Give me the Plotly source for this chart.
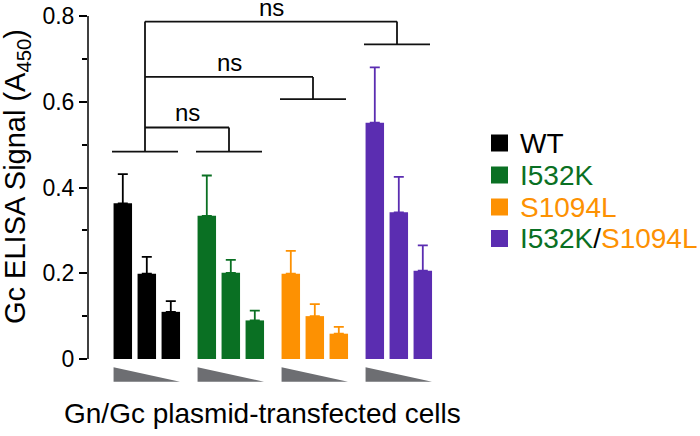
import plotly.graph_objects as go

# ---------------- data ----------------
groups = ["WT", "I532K", "S1094L", "I532K/S1094L"]
colors = ["#000000", "#0a7023", "#fd9102", "#5b2db1"]

wt_vals = [0.363, 0.199, 0.110]
wt_err = [0.068, 0.039, 0.025]
i532k_vals = [0.334, 0.201, 0.090]
i532k_err = [0.094, 0.030, 0.023]
s1094l_vals = [0.199, 0.100, 0.059]
s1094l_err = [0.053, 0.028, 0.016]
dbl_vals = [0.551, 0.342, 0.206]
dbl_err = [0.129, 0.083, 0.059]

y_tickvals = [0, 0.2, 0.4, 0.6, 0.8]
y_ticktext = ["0", "0.2", "0.4", "0.6", "0.8"]
y_minor = [0.1, 0.3, 0.5, 0.7]

# significance brackets (group bracket level per group; comparison levels WT vs others)
group_bracket_levels = [0.4835, 0.4835, 0.606, 0.734]
compare_targets = [1, 2, 3]
compare_levels = [0.540, 0.658, 0.787]
sig_labels = ["ns", "ns", "ns"]

y_title = "Gc ELISA Signal (A<sub>450</sub>)"
x_title = "Gn/Gc plasmid-transfected cells"

series_vals = [wt_vals, i532k_vals, s1094l_vals, dbl_vals]
series_err = [wt_err, i532k_err, s1094l_err, dbl_err]

# ---------------- geometry ----------------
W, H = 700, 436
ML, MR, MT, MB = 88, 253, 1, 46
PW = W - ML - MR
PH = H - MT - MB
PX_PER_X = 24.0
PX_PER_Y = 428.75
X0 = -1.45
XRANGE = [X0, X0 + PW / PX_PER_X]
Y_ZERO_PX = 359
YRANGE = [-(H - MB - Y_ZERO_PX) / PX_PER_Y, (Y_ZERO_PX - MT) / PX_PER_Y]
GROUP_STEP = 3.5
BAR_W = 0.77
FONT = "Liberation Sans, Arial, Helvetica, sans-serif"


def xp(px):
    return (px - ML) / PW


def yp(py):
    return (H - MB - py) / PH


fig = go.Figure()

for g, name in enumerate(groups):
    xs = [g * GROUP_STEP + i for i in range(len(series_vals[g]))]
    fig.add_trace(go.Bar(
        x=xs, y=series_vals[g], width=BAR_W, name=name,
        marker=dict(color=colors[g], line=dict(width=0)),
        error_y=dict(type="data", symmetric=False, array=series_err[g],
                     arrayminus=[0] * len(series_err[g]),
                     color=colors[g], thickness=1.8, width=5),
        showlegend=False,
    ))
    # dose wedge under each group
    left = xs[0] - BAR_W / 2
    right = xs[-1] + BAR_W / 2
    fig.add_trace(go.Scatter(
        x=[left, left, right, left], y=[-0.019, -0.053, -0.053, -0.019],
        mode="lines", fill="toself", fillcolor="#6d6e72",
        line=dict(width=0, color="#6d6e72"), showlegend=False, hoverinfo="skip",
    ))

# brackets
line_style = dict(color="#111111", width=1.8)
shapes = []
br_left, br_right = -0.45, 2.3
centers = []
for g, lvl in enumerate(group_bracket_levels):
    gx = g * GROUP_STEP
    shapes.append(dict(type="line", xref="x", yref="y", x0=gx + br_left, x1=gx + br_right,
                       y0=lvl, y1=lvl, line=line_style))
    centers.append(gx + (br_left + br_right) / 2)

top = max(compare_levels)
shapes.append(dict(type="line", xref="x", yref="y", x0=centers[0], x1=centers[0],
                   y0=group_bracket_levels[0], y1=top, line=line_style))
annotations = []
for t, lvl, lab in zip(compare_targets, compare_levels, sig_labels):
    shapes.append(dict(type="line", xref="x", yref="y", x0=centers[0], x1=centers[t],
                       y0=lvl, y1=lvl, line=line_style))
    shapes.append(dict(type="line", xref="x", yref="y", x0=centers[t], x1=centers[t],
                       y0=lvl, y1=group_bracket_levels[t], line=line_style))
    annotations.append(dict(x=(centers[0] + centers[t]) / 2, y=lvl + 0.034, xref="x", yref="y",
                            text=lab, showarrow=False, yanchor="middle", xanchor="center",
                            font=dict(size=24, color="black", family=FONT)))

# y axis line (only from 0 to 0.8)
shapes.append(dict(type="line", xref="paper", yref="y", x0=0, x1=0, y0=0, y1=0.8,
                   line=dict(color="black", width=1.5)))

# legend (custom)
leg_rows_px = [143, 175, 207, 238.5]
leg_text = [
    "WT",
    "I532K",
    "S1094L",
    '<span style="color:%s">I532K</span>/<span style="color:%s">S1094L</span>' % (colors[1], colors[2]),
]
leg_text_colors = [colors[0], colors[1], colors[2], "black"]
for row, txt, tc, col in zip(leg_rows_px, leg_text, leg_text_colors, colors):
    shapes.append(dict(type="rect", xref="paper", yref="paper",
                       x0=xp(491), x1=xp(508), y0=yp(row + 8.5), y1=yp(row - 8.5),
                       fillcolor=col, line=dict(width=0)))
    annotations.append(dict(x=xp(518), y=yp(row), xref="paper", yref="paper", text=txt,
                            showarrow=False, xanchor="left", yanchor="middle",
                            font=dict(size=28, color=tc, family=FONT)))

# axis titles
annotations.append(dict(x=xp(262), y=yp(413), xref="paper", yref="paper", text=x_title,
                        showarrow=False, xanchor="center", yanchor="middle",
                        font=dict(size=28, color="black", family=FONT)))
annotations.append(dict(x=xp(17), y=yp(177), xref="paper", yref="paper", text=y_title,
                        showarrow=False, xanchor="center", yanchor="middle", textangle=-90,
                        font=dict(size=29, color="black", family=FONT)))

fig.update_layout(
    width=W, height=H,
    margin=dict(l=ML, r=MR, t=MT, b=MB, autoexpand=False),
    paper_bgcolor="white", plot_bgcolor="white",
    barmode="overlay",
    showlegend=False,
    font=dict(family=FONT, color="black"),
    shapes=shapes,
    annotations=annotations,
    xaxis=dict(range=XRANGE, showticklabels=False, showline=False, showgrid=False,
               zeroline=False, ticks="", automargin=False),
    yaxis=dict(range=YRANGE, tickvals=y_tickvals, ticktext=y_ticktext, ticks="outside",
               ticklen=8, tickwidth=1.5, tickcolor="black", showline=False, showgrid=False,
               zeroline=False, automargin=False,
               tickfont=dict(size=23, color="black", family=FONT),
               minor=dict(tickvals=y_minor, ticks="outside", ticklen=5, tickwidth=1.5,
                          tickcolor="black", showgrid=False)),
)

fig.write_html("out.html", config={"displayModeBar": False},
               post_script="document.body.style.margin='0px';document.body.style.overflow='hidden';")
